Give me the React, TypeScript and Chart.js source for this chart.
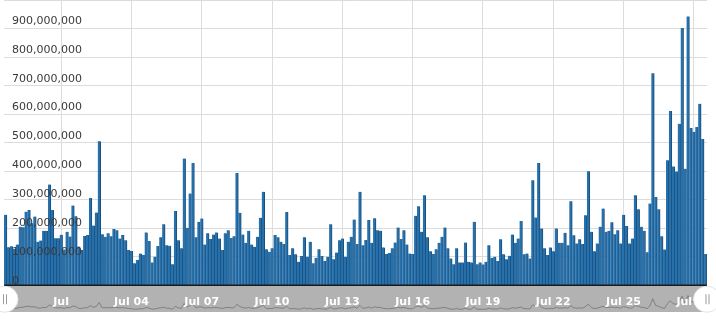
import React, { useEffect, useRef } from "react";
import { Chart, registerables } from "chart.js";

Chart.register(...registerables);

// Traded volume per 3-hour slot, in millions (slot 0 = Jun 28 15:00)
const volumeMillions: number[] = [
  245, 133, 136, 127, 142, 204, 202, 256, 262, 216, 239, 152, 156, 190, 190, 350,
  262, 164, 164, 176, 125, 186, 170, 277, 240, 135, 123, 172, 175, 303, 208, 253,
  500,
  178, 169, 181, 171, 196, 192, 163, 175, 157, 123, 120, 77, 88, 111, 106, 184,
  154, 80, 100, 137, 167, 212, 140, 138, 74, 258, 157,
  129, 440, 200, 319, 425, 167, 221, 232, 142, 181, 161, 177, 184, 163, 123, 181,
  192, 165, 171, 390, 252, 177, 148, 190, 142, 134, 169, 235, 325, 126,
  117, 129, 175, 167, 152, 144, 255, 106, 129, 108, 82, 102, 167, 100, 152, 77,
  96, 126, 102, 85, 100, 212, 91, 114, 157, 163, 100, 152, 169, 229,
  144, 325, 140, 158, 227, 148, 233, 192, 190, 132, 109, 113, 129, 149, 201, 161,
  192, 142, 111, 109, 242, 275, 186, 313, 167, 119, 109, 126, 148, 169,
  201, 129, 94, 74, 129, 80, 80, 149, 82, 80, 221, 74, 80, 73, 82, 140,
  96, 100, 85, 160, 108, 91, 103, 177, 148, 163, 224, 108, 111,
  94, 365, 236, 425, 198, 129, 106, 132, 119, 198, 148, 148, 183, 140, 292, 174,
  146, 160, 144, 244, 396, 186, 119, 146, 204, 267, 186, 190, 219, 178, 192,
  146, 245, 206, 146, 163, 313, 264, 204, 190, 115, 284, 736, 307, 264, 171, 125,
  434, 605, 413, 395, 561, 893, 405, 933, 546, 533, 550, 630, 508, 109,
];

// x-axis ticks (3-hour slot index of midnight) and their labels
const xTickSlots: number[] = [19, 43, 67, 91, 115, 139, 163, 187, 211, 235];
const xTickLabels: string[] = [
  "Jul", "Jul 04", "Jul 07", "Jul 10", "Jul 13", "Jul 16", "Jul 19", "Jul 22", "Jul 25", "Jul 28",
];

// y-axis ticks
const yTickValues: number[] = [
  0, 100000000, 200000000, 300000000, 400000000, 500000000, 600000000, 700000000, 800000000, 900000000,
];
const yTickLabels: string[] = [
  "0", "100,000,000", "200,000,000", "300,000,000", "400,000,000",
  "500,000,000", "600,000,000", "700,000,000", "800,000,000", "900,000,000",
];

const BAR_FILL = "#2670ab";
const BAR_EDGE = "#1b4e7a";
const GRID = "#dcdcdc";
const NAV_BG = "#b2b2b2";
const NAV_LINE = "#808080";

const overlayPlugin = {
  id: "overlay",
  beforeDatasetsDraw(chart: any) {
    const { ctx, chartArea } = chart;
    const nav = chart.scales.yNav;
    ctx.save();
    ctx.fillStyle = NAV_BG;
    ctx.fillRect(chartArea.left, nav.top + 0.5, chartArea.right - chartArea.left, nav.bottom - nav.top - 0.5);
    ctx.restore();
  },
  afterDatasetsDraw(chart: any) {
    const { ctx, chartArea } = chart;
    const xs = chart.scales.x;
    const ys = chart.scales.y;
    const nav = chart.scales.yNav;
    ctx.save();
    // baseline
    const y0 = ys.getPixelForValue(0);
    ctx.fillStyle = "#1a1a1a";
    ctx.fillRect(chartArea.left, Math.floor(y0) - 0.5, chartArea.right - chartArea.left, 1.5);

    // y labels inside plot
    try {
      (ctx as any).fontStretch = "condensed";
    } catch (e) {}
    ctx.font = '11px "DejaVu Sans", sans-serif';
    ctx.fillStyle = "#3a3a3a";
    ctx.textAlign = "left";
    ctx.textBaseline = "alphabetic";
    yTickValues.forEach((v, i) => {
      const py = ys.getPixelForValue(v);
      ctx.fillText(yTickLabels[i], chartArea.left + 8, py - 2);
    });

    // x labels on navigator
    ctx.font = 'bold 11px "DejaVu Sans", sans-serif';
    ctx.fillStyle = "#ffffff";
    ctx.textAlign = "center";
    const labelY = nav.top + 19.5;
    xTickSlots.forEach((s, i) => {
      ctx.fillText(xTickLabels[i], xs.getPixelForValue(s), labelY);
    });
    try {
      (ctx as any).fontStretch = "normal";
    } catch (e) {}

    // handles
    const midY = (nav.top + nav.bottom) / 2 + 0.5;
    const drawHandle = (cx: number) => {
      ctx.beginPath();
      ctx.ellipse(cx, midY, 13.5, 13, 0, 0, Math.PI * 2);
      ctx.fillStyle = "#ffffff";
      ctx.fill();
      ctx.strokeStyle = "#e4e4e4";
      ctx.lineWidth = 1;
      ctx.stroke();
      ctx.strokeStyle = "#9a9a9a";
      ctx.beginPath();
      ctx.moveTo(cx - 1, midY - 5);
      ctx.lineTo(cx - 1, midY + 5);
      ctx.moveTo(cx + 2, midY - 5);
      ctx.lineTo(cx + 2, midY + 5);
      ctx.stroke();
    };
    drawHandle(chartArea.left + 0.5);
    drawHandle(chartArea.right);
    ctx.restore();
  },
};

export default function App() {
  const canvasRef = useRef<HTMLCanvasElement | null>(null);

  useEffect(() => {
    if (!canvasRef.current) return;
    const points = volumeMillions.map((v, i) => ({ x: i, y: v * 1000000 }));
    const chart = new Chart(canvasRef.current, {
      type: "bar",
      data: {
        datasets: [
          {
            type: "bar",
            label: "Volume",
            data: points,
            xAxisID: "x",
            yAxisID: "y",
            backgroundColor: BAR_FILL,
            borderColor: BAR_EDGE,
            borderWidth: { top: 0, right: 1, bottom: 0, left: 0 },
            borderSkipped: false,
            barPercentage: 1,
            categoryPercentage: 1,
            order: 1,
          } as any,
          {
            type: "line",
            label: "Navigator",
            data: points,
            xAxisID: "x",
            yAxisID: "yNav",
            borderColor: NAV_LINE,
            borderWidth: 1,
            pointRadius: 0,
            fill: false,
            tension: 0,
            order: 0,
          } as any,
        ],
      },
      options: {
        responsive: false,
        animation: false,
        events: [],
        layout: { padding: { top: 0, left: 0, right: 9, bottom: 7 } },
        plugins: { legend: { display: false }, tooltip: { enabled: false } },
        scales: {
          x: {
            type: "linear",
            min: -0.5,
            max: 239.5,
            offset: false,
            grid: { display: true, color: GRID, drawTicks: false, offset: false },
            border: { display: false },
            ticks: { display: false },
            afterBuildTicks: (scale: any) => {
              scale.ticks = xTickSlots.map((v) => ({ value: v }));
            },
          },
          y: {
            type: "linear",
            position: "left",
            stack: "v",
            stackWeight: 285.5,
            weight: 2,
            min: 0,
            max: 990000000,
            grid: { display: true, color: GRID, drawTicks: false },
            border: { display: false },
            ticks: { display: false, stepSize: 100000000, includeBounds: false },
          },
          yNav: {
            type: "linear",
            position: "left",
            stack: "v",
            stackWeight: 26.5,
            weight: 1,
            min: -94000000,
            max: 1562000000,
            grid: { display: false },
            border: { display: false },
            ticks: { display: false },
          },
        },
      } as any,
      plugins: [overlayPlugin],
    });
    return () => chart.destroy();
  }, []);

  return (
    <div style={{ position: "absolute", left: 0, top: 0, width: 716, height: 319, background: "#fff" }}>
      <canvas ref={canvasRef} width={716} height={319} style={{ display: "block" }} />
    </div>
  );
}
